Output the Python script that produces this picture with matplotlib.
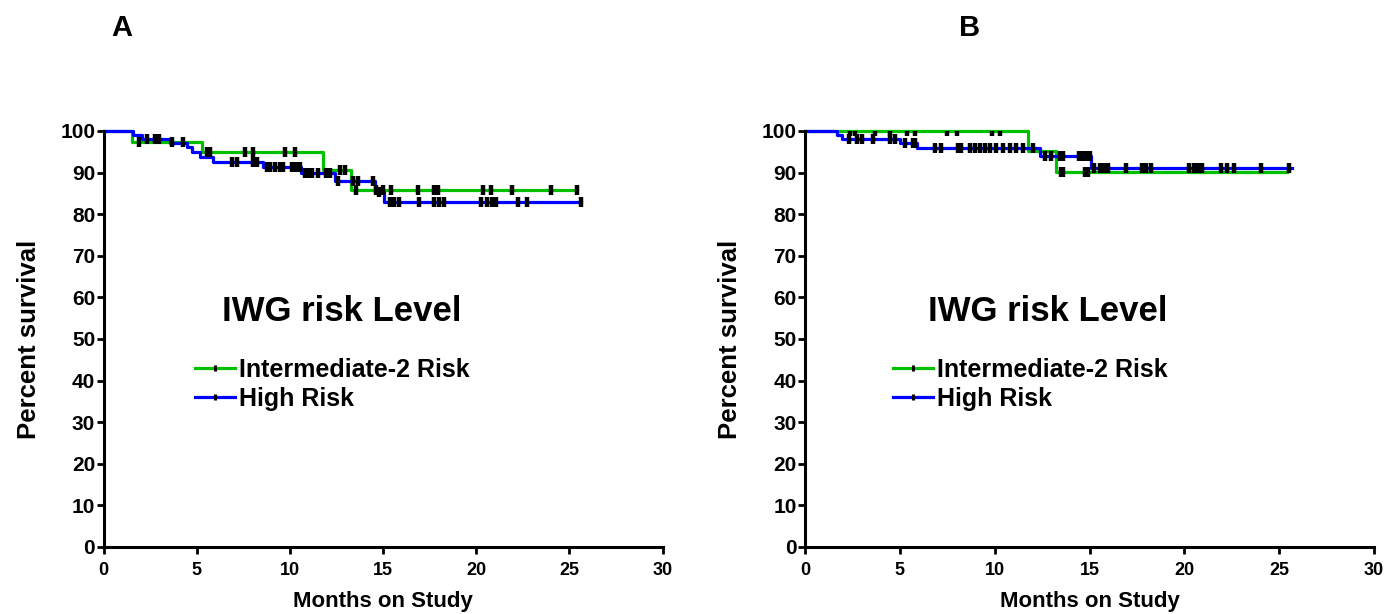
import numpy as np
import matplotlib
matplotlib.use("Agg")
import matplotlib.pyplot as plt
from matplotlib.lines import Line2D

plt.rcParams['font.family'] = ['Liberation Sans', 'DejaVu Sans']
plt.rcParams['font.weight'] = 'bold'

GREEN = "#00c000"
BLUE = "#0000ff"

# Panel A - step curves (time in months, percent survival after step)
a_int2_t = [0, 1.53, 5.28, 11.76, 13.3, 25.42]
a_int2_s = [100, 97.4, 94.9, 90.6, 85.7, 85.7]
a_high_t = [0, 1.6, 2.07, 3.58, 4.5, 4.74, 5.19, 5.9, 8.57, 10.6, 12.4, 14.55, 15.08, 25.6]
a_high_s = [100, 99.0, 98.0, 97.0, 96.2, 95.0, 93.8, 92.6, 91.4, 89.8, 88.0, 85.4, 83.0, 83.0]
a_int2_cens = [1.89, 3.67, 4.29, 5.55, 5.72, 7.59, 8.04, 9.73, 10.27, 12.67, 12.94,
               13.57, 14.64, 14.99, 15.44, 16.86, 17.75, 17.93, 20.34, 20.79, 21.94, 24.03, 25.42]
a_high_cens = [2.34, 2.78, 2.96, 6.88, 7.15, 8.04, 8.22, 8.75, 8.93, 9.2, 9.47, 9.64,
               10.09, 10.32, 10.53, 10.8, 10.96, 11.18, 11.5, 11.96, 12.14, 12.57, 13.37,
               13.64, 14.44, 14.81, 15.35, 15.61, 15.88, 16.95, 17.75, 18.02, 18.29, 20.25,
               20.59, 20.86, 21.07, 22.26, 22.71, 25.6]

# Panel B
b_int2_t = [0, 11.75, 13.25, 25.42]
b_int2_s = [100, 95.2, 90.2, 90.2]
b_high_t = [0, 1.67, 1.93, 5.0, 5.88, 12.37, 15.1, 25.68]
b_high_s = [100, 99.0, 98.0, 97.0, 95.8, 94.0, 91.0, 91.0]
b_int2_cens = [2.37, 2.63, 3.68, 4.47, 5.37, 5.79, 7.47, 8.0, 9.84, 10.26,
               13.51, 13.58, 14.74, 14.91]
b_high_cens = [2.32, 2.74, 3.0, 3.58, 4.47, 4.74, 5.26, 5.68, 5.79, 6.84, 7.19, 8.07,
               8.25, 8.68, 8.95, 9.21, 9.47, 9.74, 10.09, 10.42, 10.79, 11.1, 11.47, 12.0,
               12.63, 12.98, 13.42, 13.58, 14.47, 14.63, 14.84, 15.04, 15.26, 15.53, 15.74,
               15.95, 16.93, 17.79, 18.0, 18.26, 20.26, 20.53, 20.74, 20.95, 21.93, 22.26,
               22.63, 24.04, 25.53]

x_ticks = [0, 5, 10, 15, 20, 25, 30]
y_ticks = [0, 10, 20, 30, 40, 50, 60, 70, 80, 90, 100]
labels = ["Intermediate-2 Risk", "High Risk"]


def level_at(t, s, c):
    idx = np.searchsorted(t, c, side="right") - 1
    return np.asarray(s)[idx]


def draw_panel(ax, curves, letter, letter_x, leg_x):
    for (t, s, cens), col in zip(curves, [GREEN, BLUE]):
        ax.step(t, s, where="post", color=col, lw=2.3, zorder=2, clip_on=False)
        ax.plot(cens, level_at(t, s, cens), ls="none", marker="|", color="k",
                ms=7, mew=3.2, zorder=3)

    ax.set_xlim(0, 30)
    ax.set_ylim(0, 100)
    ax.set_xticks(x_ticks)
    ax.set_yticks(y_ticks)
    for sp in ["top", "right"]:
        ax.spines[sp].set_visible(False)
    for sp in ["left", "bottom"]:
        ax.spines[sp].set_linewidth(2.2)
    ax.tick_params(axis="y", labelsize=15, width=2, length=5, pad=1)
    ax.tick_params(axis="x", labelsize=13, width=2, length=5, pad=6)
    for lab in ax.get_xticklabels() + ax.get_yticklabels():
        lab.set_fontweight("bold")
    ax.set_xlabel("Months on Study", fontsize=16, fontweight="bold", labelpad=8.5)
    ax.set_ylabel("Percent survival", fontsize=18.5, fontweight="bold", labelpad=14)

    ax.text(0.427, 0.565, "IWG risk Level", transform=ax.transAxes, fontsize=25,
            fontweight="bold", ha="center", va="center")
    handles = [Line2D([0], [0], color=c, lw=2.3, marker="|", mec="k", ms=5, mew=2.2)
               for c in [GREEN, BLUE]]
    ax.legend(handles, labels, loc="upper left", bbox_to_anchor=(leg_x, 0.455),
              frameon=False, numpoints=1, handlelength=1.6, handletextpad=0.15,
              labelspacing=0.2, borderpad=0, borderaxespad=0,
              prop={"size": 18, "weight": "bold"})
    ax.text(letter_x, (614 - 28 - 67) / 416.0, letter, transform=ax.transAxes,
            fontsize=21, fontweight="bold", ha="center", va="center")


fig = plt.figure(figsize=(13.88, 6.14), dpi=100)
axA = fig.add_axes([103.5 / 1388, 67 / 614, 559 / 1388, 416 / 614])
axB = fig.add_axes([805 / 1388, 67 / 614, 569 / 1388, 416 / 614])

draw_panel(axA, [(a_int2_t, a_int2_s, a_int2_cens), (a_high_t, a_high_s, a_high_cens)],
           "A", (122 - 103.5) / 559, 0.164)
draw_panel(axB, [(b_int2_t, b_int2_s, b_int2_cens), (b_high_t, b_high_s, b_high_cens)],
           "B", (970 - 805) / 569, 0.155)

fig.savefig("out.png", dpi=100)
